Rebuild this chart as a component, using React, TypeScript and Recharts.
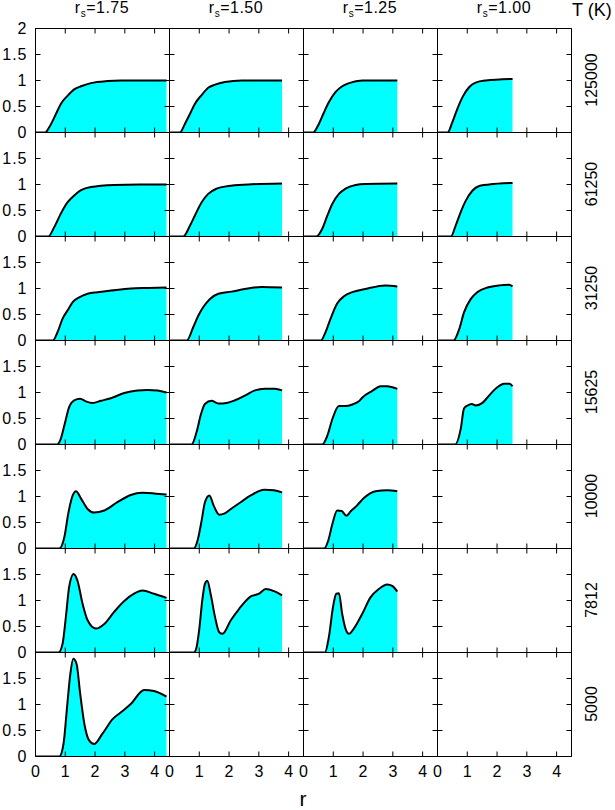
import { Area, AreaChart, ReferenceArea, XAxis, YAxis } from "recharts";

const rsLabels = ["1.75", "1.50", "1.25", "1.00"];
const tempLabels = ["125000", "61250", "31250", "15625", "10000", "7812", "5000"];
const rTicks = [0, 1, 2, 3, 4];
const gTicks = [0, 0.5, 1, 1.5, 2];

type Pt = [number, number];

// g(r) as [r, g] pairs
// rs = 1.75
const rs175_T125000: Pt[] = [[0, 0], [0.32, 0], [0.46, 0.1], [0.69, 0.36], [0.85, 0.55], [1.08, 0.71], [1.3, 0.83], [1.53, 0.89], [1.86, 0.95], [2.42, 0.99], [2.87, 1.0], [3.5, 1.0], [4.4, 1.0]];
const rs175_T61250: Pt[] = [[0, 0], [0.43, 0], [0.63, 0.18], [0.85, 0.44], [1.08, 0.66], [1.3, 0.79], [1.53, 0.89], [1.86, 0.95], [2.64, 0.99], [3.5, 1.0], [4.4, 1.0]];
const rs175_T31250: Pt[] = [[0, 0], [0.58, 0], [0.74, 0.16], [0.91, 0.42], [1.08, 0.58], [1.25, 0.74], [1.47, 0.83], [1.75, 0.9], [2.08, 0.93], [2.53, 0.96], [3.2, 1.0], [3.8, 1.01], [4.4, 1.02]];
const rs175_T15625: Pt[] = [[0, 0], [0.72, 0], [0.85, 0.11], [0.97, 0.37], [1.13, 0.72], [1.3, 0.85], [1.5, 0.88], [1.69, 0.83], [1.92, 0.8], [2.2, 0.84], [2.53, 0.89], [2.98, 0.99], [3.42, 1.04], [3.76, 1.05], [4.1, 1.04], [4.4, 1.0]];
const rs175_T10000: Pt[] = [[0, 0], [0.8, 0], [0.97, 0.22], [1.1, 0.67], [1.25, 1.02], [1.36, 1.1], [1.53, 0.96], [1.75, 0.76], [1.97, 0.69], [2.31, 0.73], [2.75, 0.89], [3.2, 1.03], [3.59, 1.07], [3.98, 1.06], [4.4, 1.04]];
const rs175_T7812: Pt[] = [[0, 0], [0.77, 0], [0.91, 0.17], [1.02, 0.68], [1.13, 1.26], [1.28, 1.51], [1.41, 1.38], [1.58, 0.94], [1.75, 0.62], [2.03, 0.46], [2.31, 0.55], [2.64, 0.78], [2.98, 0.99], [3.31, 1.13], [3.59, 1.19], [3.98, 1.13], [4.4, 1.05]];
const rs175_T5000: Pt[] = [[0, 0], [0.8, 0], [0.94, 0.24], [1.06, 0.95], [1.17, 1.59], [1.27, 1.88], [1.38, 1.78], [1.5, 1.21], [1.64, 0.63], [1.8, 0.31], [1.97, 0.24], [2.25, 0.44], [2.59, 0.72], [2.87, 0.85], [3.2, 1.01], [3.65, 1.28], [3.98, 1.26], [4.4, 1.15]];

// rs = 1.50
const rs150_T125000: Pt[] = [[0, 0], [0.35, 0], [0.52, 0.17], [0.69, 0.36], [0.85, 0.55], [1.08, 0.72], [1.3, 0.86], [1.53, 0.92], [1.86, 0.97], [2.42, 1.0], [3.78, 1.0]];
const rs150_T61250: Pt[] = [[0, 0], [0.46, 0], [0.69, 0.21], [0.85, 0.4], [1.08, 0.66], [1.3, 0.82], [1.58, 0.92], [1.97, 0.97], [2.64, 1.0], [3.78, 1.02]];
const rs150_T31250: Pt[] = [[0, 0], [0.58, 0], [0.8, 0.26], [0.97, 0.48], [1.13, 0.64], [1.36, 0.8], [1.64, 0.9], [2.08, 0.94], [2.53, 0.99], [3.09, 1.03], [3.78, 1.02]];
const rs150_T15625: Pt[] = [[0, 0], [0.74, 0], [0.91, 0.24], [1.06, 0.59], [1.19, 0.78], [1.41, 0.84], [1.64, 0.79], [1.92, 0.8], [2.2, 0.85], [2.53, 0.94], [2.87, 1.04], [3.2, 1.07], [3.54, 1.07], [3.78, 1.04]];
const rs150_T10000: Pt[] = [[0, 0], [0.81, 0], [0.94, 0.15], [1.08, 0.54], [1.19, 0.89], [1.34, 1.02], [1.48, 0.83], [1.67, 0.65], [1.84, 0.67], [2.06, 0.76], [2.39, 0.89], [2.73, 1.02], [3.18, 1.13], [3.51, 1.12], [3.78, 1.08]];
const rs150_T7812: Pt[] = [[0, 0], [0.82, 0], [0.9, 0.08], [1.0, 0.45], [1.1, 1.0], [1.19, 1.32], [1.27, 1.38], [1.39, 1.1], [1.53, 0.68], [1.67, 0.39], [1.78, 0.36], [2.06, 0.62], [2.34, 0.84], [2.73, 1.08], [3.01, 1.13], [3.23, 1.22], [3.51, 1.18], [3.78, 1.1]];

// rs = 1.25
const rs125_T125000: Pt[] = [[0, 0], [0.32, 0], [0.52, 0.17], [0.69, 0.39], [0.85, 0.58], [1.08, 0.78], [1.3, 0.89], [1.53, 0.95], [1.97, 1.0], [3.15, 1.0]];
const rs125_T61250: Pt[] = [[0, 0], [0.43, 0], [0.63, 0.15], [0.8, 0.4], [0.97, 0.63], [1.19, 0.82], [1.41, 0.92], [1.75, 0.99], [2.08, 1.01], [3.15, 1.02]];
const rs125_T31250: Pt[] = [[0, 0], [0.58, 0], [0.74, 0.16], [0.91, 0.42], [1.13, 0.71], [1.36, 0.85], [1.64, 0.93], [2.08, 0.99], [2.75, 1.06], [3.15, 1.04]];
const rs125_T15625: Pt[] = [[0, 0], [0.63, 0], [0.8, 0.17], [0.97, 0.49], [1.19, 0.74], [1.41, 0.74], [1.64, 0.77], [1.86, 0.83], [1.97, 0.9], [2.31, 1.03], [2.59, 1.12], [2.81, 1.12], [3.15, 1.07]];
const rs125_T10000: Pt[] = [[0, 0], [0.69, 0], [0.83, 0.15], [0.97, 0.47], [1.13, 0.73], [1.28, 0.72], [1.44, 0.63], [1.58, 0.71], [1.8, 0.83], [2.03, 0.97], [2.42, 1.1], [2.81, 1.12], [3.15, 1.1]];
const rs125_T7812: Pt[] = [[0, 0], [0.72, 0], [0.85, 0.29], [0.99, 0.87], [1.1, 1.13], [1.19, 1.14], [1.3, 0.74], [1.41, 0.46], [1.53, 0.36], [1.69, 0.46], [1.97, 0.74], [2.25, 1.06], [2.53, 1.22], [2.81, 1.31], [2.98, 1.28], [3.15, 1.17]];

// rs = 1.00
const rs100_T125000: Pt[] = [[0, 0], [0.34, 0], [0.5, 0.2], [0.67, 0.46], [0.84, 0.68], [1.06, 0.87], [1.28, 0.96], [1.62, 1.0], [2.52, 1.03]];
const rs100_T61250: Pt[] = [[0, 0], [0.45, 0], [0.61, 0.21], [0.78, 0.47], [0.95, 0.69], [1.17, 0.88], [1.4, 0.97], [1.73, 1.0], [2.52, 1.03]];
const rs100_T31250: Pt[] = [[0, 0], [0.54, 0], [0.73, 0.22], [0.89, 0.54], [1.12, 0.8], [1.34, 0.93], [1.68, 1.02], [2.07, 1.06], [2.4, 1.07], [2.52, 1.04]];
const rs100_T15625: Pt[] = [[0, 0], [0.59, 0], [0.78, 0.3], [0.89, 0.69], [1.01, 0.75], [1.15, 0.78], [1.28, 0.75], [1.51, 0.8], [1.73, 0.94], [2.01, 1.1], [2.23, 1.17], [2.42, 1.17], [2.52, 1.12]];

// rows = temperature, columns = rs
const grid: (Pt[] | null)[][] = [
  [rs175_T125000, rs150_T125000, rs125_T125000, rs100_T125000],
  [rs175_T61250, rs150_T61250, rs125_T61250, rs100_T61250],
  [rs175_T31250, rs150_T31250, rs125_T31250, rs100_T31250],
  [rs175_T15625, rs150_T15625, rs125_T15625, rs100_T15625],
  [rs175_T10000, rs150_T10000, rs125_T10000, null],
  [rs175_T7812, rs150_T7812, rs125_T7812, null],
  [rs175_T5000, null, null, null],
];

const PW = 134;
const PH = 104;
const COL_X = [35, 169, 303, 437];
const ROW_Y = [28, 132, 236, 340, 444, 548, 652];
const TICK = 5;
const FONT = "'Liberation Sans', Arial, Helvetica, sans-serif";
const LAST_ROW = ROW_Y.length - 1;

function Panel({ curve, row, col }: { curve: Pt[] | null; row: number; col: number }) {
  // plot edges sit on half pixels so the 1px frame stays crisp
  const ml = col === 0 ? 35.5 : 2.5;
  const mt = 2.5;
  const mb = row === LAST_ROW ? 32.5 : 2.5;
  const data = curve ? curve.map(([r, g]) => ({ r, g })) : [];
  const plotBottom = mt + PH;
  const plotRight = ml + PW;

  const xTick = (p: any) => (
    <g>
      <line x1={p.x} x2={p.x} y1={plotBottom} y2={plotBottom - TICK} stroke="#000" />
      <line x1={p.x} x2={p.x} y1={mt} y2={mt + TICK} stroke="#000" />
      {row === LAST_ROW && (
        <text x={p.x} y={plotBottom + 20} textAnchor="middle" fontSize={16} fontFamily={FONT} fill="#000">
          {p.payload.value}
        </text>
      )}
    </g>
  );

  const yTick = (p: any) => (
    <g>
      <line x1={ml} x2={ml + TICK} y1={p.y} y2={p.y} stroke="#000" />
      <line x1={plotRight} x2={plotRight - TICK} y1={p.y} y2={p.y} stroke="#000" />
      {col === 0 && (p.payload.value !== 2 || row === 0) && (
        <text x={ml - 8} y={p.y + 5.5} textAnchor="end" fontSize={16} letterSpacing={1} fontFamily={FONT} fill="#000">
          {p.payload.value}
        </text>
      )}
    </g>
  );

  return (
    <div style={{ position: "absolute", left: COL_X[col] + 0.5 - ml, top: ROW_Y[row] + 0.5 - mt }}>
      <AreaChart
        width={PW + ml + 2.5}
        height={PH + mt + mb}
        data={data}
        margin={{ top: mt, right: 2.5, bottom: mb - 1, left: ml - 1 }}
      >
        <XAxis
          dataKey="r"
          type="number"
          domain={[0, 4.5]}
          allowDataOverflow
          ticks={rTicks}
          interval={0}
          height={1}
          tickSize={0}
          tickMargin={0}
          axisLine={false}
          tickLine={false}
          tick={xTick}
        />
        <YAxis
          type="number"
          domain={[0, 2]}
          allowDataOverflow
          ticks={gTicks}
          interval={0}
          width={1}
          tickSize={0}
          tickMargin={0}
          axisLine={false}
          tickLine={false}
          tick={yTick}
        />
        {curve && (
          <Area
            dataKey="g"
            type="monotone"
            stroke="#000"
            strokeWidth={2}
            fill="#00ffff"
            fillOpacity={1}
            dot={false}
            activeDot={false}
            isAnimationActive={false}
          />
        )}
        <ReferenceArea x1={0} x2={4.5} y1={0} y2={2} fill="none" stroke="#000" strokeWidth={1} zIndex={600} />
      </AreaChart>
    </div>
  );
}

export default function App() {
  return (
    <div style={{ position: "absolute", left: 0, top: 0, width: 615, height: 810, background: "#fff", fontFamily: FONT, color: "#000" }}>
      {/* tick labels sit on panel edges, let them spill out of each svg */}
      <style>{".recharts-surface { overflow: visible; }"}</style>
      {rsLabels.map((rs, c) => (
        <div
          key={rs}
          style={{ position: "absolute", left: COL_X[c], top: -1, width: PW, textAlign: "center", fontSize: 16, lineHeight: "18px", letterSpacing: 0.5 }}
        >
          r<span style={{ fontSize: 10, position: "relative", top: 4 }}>s</span>={rs}
        </div>
      ))}
      <div style={{ position: "absolute", left: 572, top: -1, fontSize: 18, lineHeight: "22px", whiteSpace: "nowrap" }}>T (K)</div>
      {tempLabels.map((t, r) => (
        <div
          key={t}
          style={{
            position: "absolute",
            left: 592,
            top: ROW_Y[r] + PH / 2,
            fontSize: 16,
            lineHeight: "16px",
            whiteSpace: "nowrap",
            transform: "translate(-50%, -50%) rotate(-90deg)",
          }}
        >
          {t}
        </div>
      ))}
      {grid.map((cells, r) => cells.map((curve, c) => <Panel key={`${r}-${c}`} curve={curve} row={r} col={c} />))}
      <div style={{ position: "absolute", left: 303, top: 788, transform: "translateX(-50%)", fontSize: 21, lineHeight: "22px" }}>r</div>
    </div>
  );
}
